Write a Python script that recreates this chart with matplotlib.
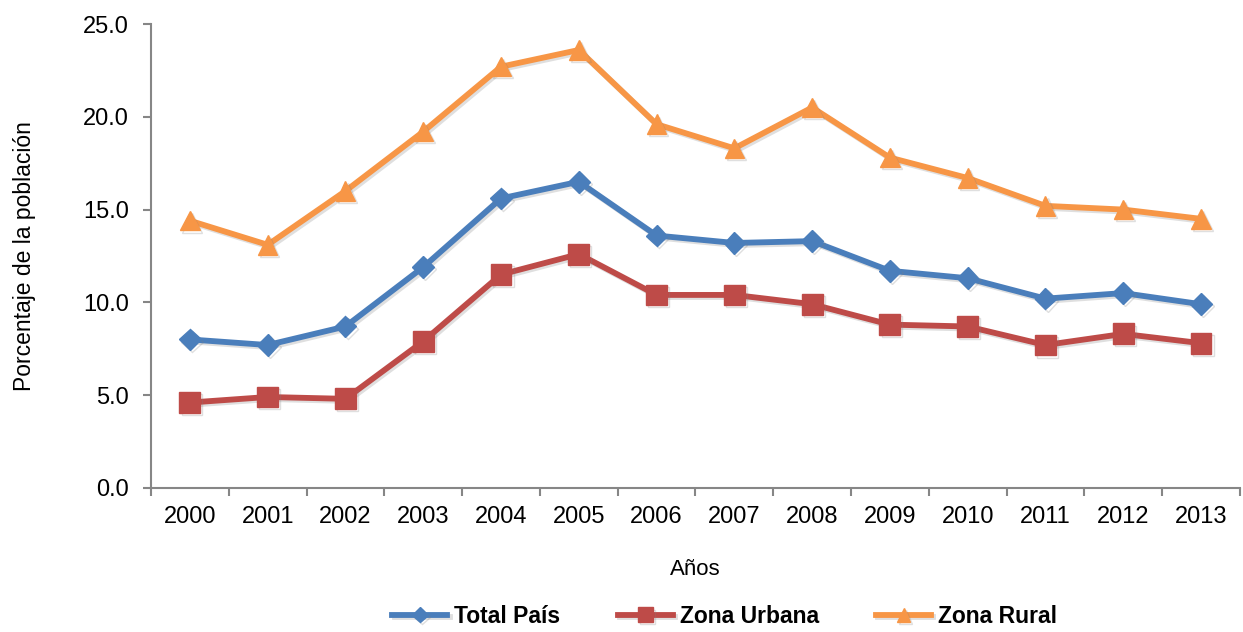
import matplotlib
matplotlib.use("Agg")
import matplotlib.pyplot as plt
import matplotlib.patheffects as pe
from matplotlib import font_manager as fm
import numpy as np

# data
years = ["2000", "2001", "2002", "2003", "2004", "2005", "2006",
         "2007", "2008", "2009", "2010", "2011", "2012", "2013"]
total_pais = [8.0, 7.7, 8.7, 11.9, 15.6, 16.5, 13.6, 13.2, 13.3, 11.7, 11.3, 10.2, 10.5, 9.9]
zona_urbana = [4.6, 4.9, 4.8, 7.9, 11.5, 12.6, 10.4, 10.4, 9.9, 8.8, 8.7, 7.7, 8.3, 7.8]
zona_rural = [14.4, 13.1, 16.0, 19.2, 22.7, 23.6, 19.6, 18.3, 20.5, 17.8, 16.7, 15.2, 15.0, 14.5]
y_ticks = [0, 5, 10, 15, 20, 25]

plt.rcParams['font.family'] = ['Liberation Sans', 'DejaVu Sans']

# condensed bold font for the legend, if one is installed
installed = {f.name for f in fm.fontManager.ttflist}
if 'Liberation Sans Narrow' in installed:
    leg_prop = {'family': 'Liberation Sans Narrow', 'weight': 'bold', 'size': 19}
else:
    leg_prop = {'family': 'Liberation Sans', 'weight': 'bold', 'size': 16.5}

fig = plt.figure(figsize=(12.43, 6.32), dpi=100)
ax = fig.add_axes([0.1215, 0.228, 0.876, 0.734])

x = np.arange(len(years))
shadow = [pe.SimpleLineShadow(offset=(1.5, -1.5), alpha=0.25, shadow_color='gray'), pe.Normal()]

series = [
    ("Total País", total_pais, "#4A7EBB", "D", 11),
    ("Zona Urbana", zona_urbana, "#BE4B48", "s", 15),
    ("Zona Rural", zona_rural, "#F79646", "^", 14),
]
handles = []
for name, vals, col, mk, ms in series:
    h, = ax.plot(x, vals, color=col, lw=4.2, marker=mk, markersize=ms,
                 markerfacecolor=col, markeredgecolor=col, label=name,
                 path_effects=shadow)
    handles.append(h)

ax.set_xlim(-0.5, len(years) - 0.5)
ax.set_ylim(0, 25)
ax.set_yticks(y_ticks)
ax.set_yticklabels([f"{v:.1f}" for v in y_ticks])
ax.set_xticks(x)
ax.set_xticklabels(years)
ax.set_xticks(np.arange(-0.5, len(years)), minor=True)
ax.tick_params(axis='x', which='major', length=0, pad=13, labelsize=17)
ax.tick_params(axis='x', which='minor', length=6, width=1.5, color='#868686', direction='out')
ax.tick_params(axis='y', length=6, width=1.5, color='#868686', labelsize=17, pad=10)

for side in ['top', 'right']:
    ax.spines[side].set_visible(False)
for side in ['left', 'bottom']:
    ax.spines[side].set_color('#868686')
    ax.spines[side].set_linewidth(1.5)

ax.set_ylabel("Porcentaje de la población", fontsize=16.5, labelpad=34)
ax.set_xlabel("Años", fontsize=16, labelpad=22)

fig.legend(handles=handles, loc='lower center', bbox_to_anchor=(0.583, -0.026), ncol=3,
           frameon=False, handlelength=2.4, columnspacing=2.5, handletextpad=0.3,
           prop=leg_prop, markerscale=0.7)

fig.savefig("out.png", dpi=100)
